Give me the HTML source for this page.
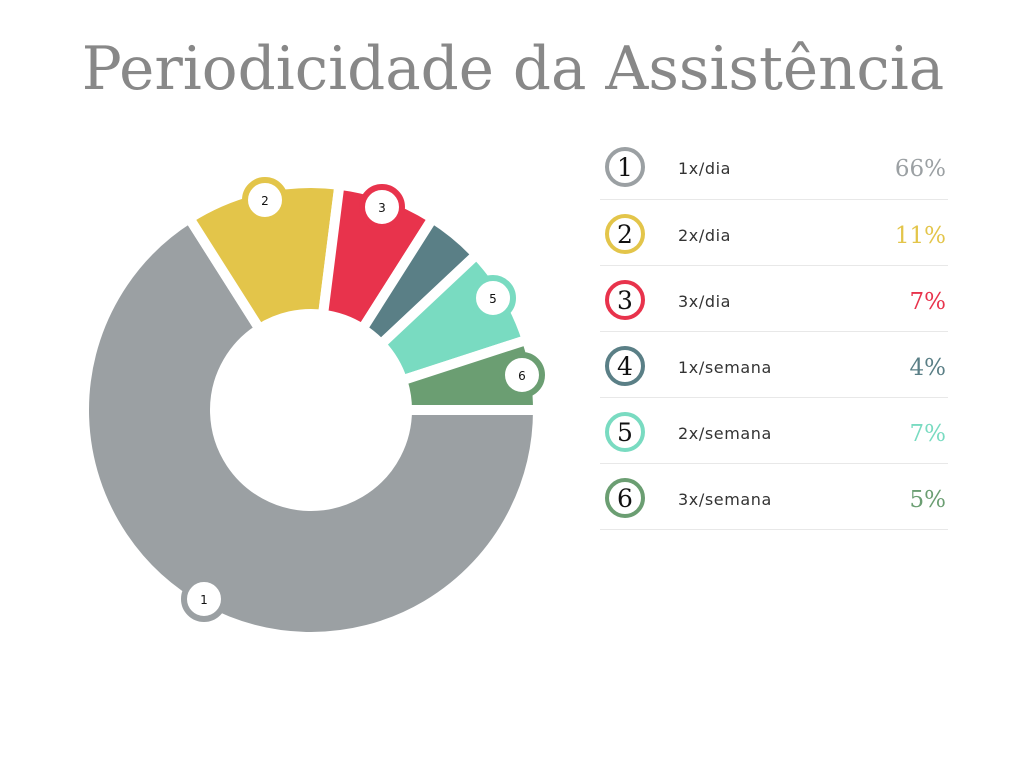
<!DOCTYPE html>
<html><head><meta charset="utf-8"><style>
html,body{margin:0;padding:0;background:#fff;width:1024px;height:768px;overflow:hidden}
svg{display:block}
</style></head><body>
<svg id="s" width="1024" height="768" viewBox="0 0 1024 768">
<text x="513" y="89" text-anchor="middle" font-family="'DejaVu Serif',serif" font-size="59.5" fill="#888">Periodicidade da Assistência</text>
<g id="slices"></g>
<g font-family="'DejaVu Sans',sans-serif" font-size="12" fill="#111" text-anchor="middle">
<circle cx="204" cy="599" r="20" fill="#fff" stroke="#9ba0a3" stroke-width="6"/><text x="204" y="604">1</text>
<circle cx="265" cy="200" r="20" fill="#fff" stroke="#e3c54a" stroke-width="6"/><text x="265" y="205">2</text>
<circle cx="382" cy="207" r="20" fill="#fff" stroke="#e8334c" stroke-width="6"/><text x="382" y="212">3</text>
<circle cx="493" cy="298" r="20" fill="#fff" stroke="#79dbc1" stroke-width="6"/><text x="493" y="303">5</text>
<circle cx="522" cy="375" r="20" fill="#fff" stroke="#6b9e72" stroke-width="6"/><text x="522" y="380">6</text>
</g>
<g stroke="#e8e8e8" stroke-width="1">
<line x1="600" y1="199.5" x2="948" y2="199.5"/><line x1="600" y1="265.5" x2="948" y2="265.5"/>
<line x1="600" y1="331.5" x2="948" y2="331.5"/><line x1="600" y1="397.5" x2="948" y2="397.5"/>
<line x1="600" y1="463.5" x2="948" y2="463.5"/><line x1="600" y1="529.5" x2="948" y2="529.5"/>
</g>
<g fill="#fff" stroke-width="4">
<circle cx="625" cy="167" r="18" stroke="#9ba0a3"/>
<circle cx="625" cy="234" r="18" stroke="#e3c54a"/>
<circle cx="625" cy="300" r="18" stroke="#e8334c"/>
<circle cx="625" cy="366" r="18" stroke="#5a7f86"/>
<circle cx="625" cy="432" r="18" stroke="#79dbc1"/>
<circle cx="625" cy="498" r="18" stroke="#6b9e72"/>
</g>
<g font-family="'DejaVu Serif',serif" font-size="25" fill="#111" text-anchor="middle">
<text x="625" y="176">1</text><text x="625" y="243">2</text><text x="625" y="309">3</text>
<text x="625" y="375">4</text><text x="625" y="441">5</text><text x="625" y="507">6</text>
</g>
<g font-family="'DejaVu Sans',sans-serif" font-size="16" fill="#333" letter-spacing="0.6">
<text x="678" y="174">1x/dia</text><text x="678" y="241">2x/dia</text><text x="678" y="307">3x/dia</text>
<text x="678" y="373">1x/semana</text><text x="678" y="439">2x/semana</text><text x="678" y="505">3x/semana</text>
</g>
<g font-family="'DejaVu Serif',serif" font-size="23" text-anchor="end">
<text x="946" y="176" fill="#9ba0a3">66%</text>
<text x="946" y="243" fill="#e3c54a">11%</text>
<text x="946" y="309" fill="#e8334c">7%</text>
<text x="946" y="375" fill="#5a7f86">4%</text>
<text x="946" y="441" fill="#79dbc1">7%</text>
<text x="946" y="507" fill="#6b9e72">5%</text>
</g>
</svg>
<script>
(function(){
var cx=311,cy=410,ro=227,ri=96;
var d=[[66,'#9ba0a3'],[11,'#e3c54a'],[7,'#e8334c'],[4,'#5a7f86'],[7,'#79dbc1'],[5,'#6b9e72']];
var a=0,h='';
function p(r,t){return (cx+r*Math.cos(t)).toFixed(2)+' '+(cy+r*Math.sin(t)).toFixed(2);}
d.forEach(function(s){
var a0=a*Math.PI/50,a1=(a+s[0])*Math.PI/50;a+=s[0];
var l=(s[0]>50)?1:0;
h+='<path d="M'+p(ro,a0)+' A'+ro+' '+ro+' 0 '+l+' 1 '+p(ro,a1)+' L'+p(ri,a1)+' A'+ri+' '+ri+' 0 '+l+' 0 '+p(ri,a0)+' Z" fill="'+s[1]+'" stroke="#fff" stroke-width="10" stroke-linejoin="miter"/>';
});
document.getElementById('slices').innerHTML=h;
})();
</script>
</body></html>
